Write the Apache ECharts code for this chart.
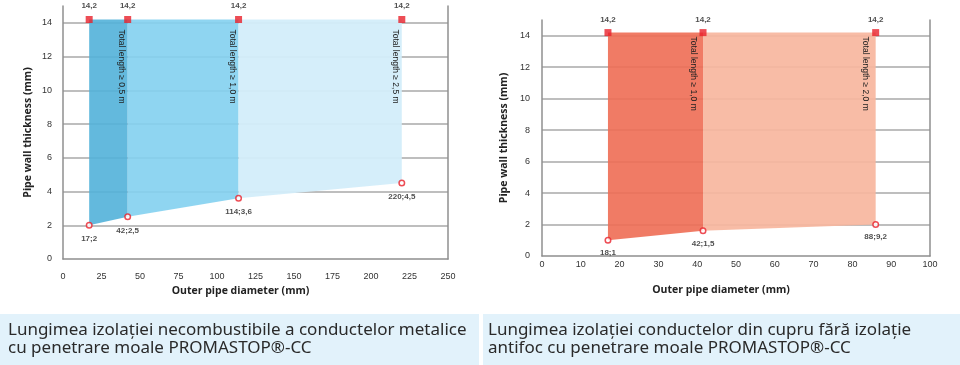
<!DOCTYPE html>
<html><head><meta charset="utf-8">
<script src="https://cdn.jsdelivr.net/npm/echarts@6/dist/echarts.min.js"></script>
<style>html,body{margin:0;padding:0;background:#fff}#c{width:960px;height:365px}</style>
</head><body><div id="c"></div>
<script>
// ---------- data ----------
const yTicks = [0, 2, 4, 6, 8, 10, 12, 14];
const yMax = 15;
const leftXTicks = [0, 25, 50, 75, 100, 125, 150, 175, 200, 225, 250];
const rightXTicks = [0, 10, 20, 30, 40, 50, 60, 70, 80, 90, 100];

const leftX = [17, 42, 114, 220];
const leftLow = [2, 2.5, 3.6, 4.5];
const leftTop = [14.2, 14.2, 14.2, 14.2];
const leftTopLabels = ['14,2', '14,2', '14,2', '14,2'];
const leftPointLabels = ['17;2', '42;2,5', '114;3,6', '220;4,5'];
const leftLengthLabels = ['Total length ≥ 0,5 m', 'Total length ≥ 1,0 m', 'Total length ≥ 2,5 m'];

const rightX = [17, 41.5, 86];
const rightLow = [1, 1.6, 2];
const rightTop = [14.2, 14.2, 14.2];
const rightTopLabels = ['14,2', '14,2', '14,2'];
const rightPointLabels = ['18;1', '42;1,5', '88;9,2'];
const rightLengthLabels = ['Total length ≥ 1,0 m', 'Total length ≥ 2,0 m'];

const xAxisName = 'Outer pipe diameter (mm)';
const yAxisName = 'Pipe wall thickness (mm)';
const captionLeft = ['Lungimea izolației necombustibile a conductelor metalice', 'cu penetrare moale PROMASTOP®-CC'];
const captionRight = ['Lungimea izolației conductelor din cupru fără izolație', 'antifoc cu penetrare moale PROMASTOP®-CC'];

// ---------- styles ----------
const leftFill = ['rgba(82,177,217,0.9)', 'rgba(131,208,239,0.9)', 'rgba(211,237,250,0.95)'];
const rightFill = ['rgba(238,109,84,0.9)', 'rgba(247,182,158,0.92)'];
const red = '#e8202a';
const axisGray = '#8f8f8f';
const gridGray = '#a8a8a8';
const baseFont = 'Liberation Sans, Arial, sans-serif';

function sections(xs, lows, tops) {
  const out = [];
  for (let i = 0; i < xs.length - 1; i++) out.push([xs[i], xs[i + 1], lows[i], lows[i + 1], tops[i]]);
  return out;
}
function polyRender(colors) {
  return function (params, api) {
    const x0 = api.value(0), x1 = api.value(1), l0 = api.value(2), l1 = api.value(3), t = api.value(4);
    const pts = [api.coord([x0, l0]), api.coord([x1, l1]), api.coord([x1, t]), api.coord([x0, t])];
    return { type: 'polygon', shape: { points: pts }, style: { fill: colors[params.dataIndex] } };
  };
}
function textRender(labels, dx, dy) {
  return function (params, api) {
    const p = api.coord([api.value(0), api.value(1)]);
    return {
      type: 'text', x: p[0] + dx, y: p[1] + dy, rotation: -Math.PI / 2,
      style: { text: labels[params.dataIndex], fontSize: 8.5, fontFamily: 'Liberation Sans Narrow, Liberation Sans, sans-serif', fill: '#222', align: 'left', verticalAlign: 'middle' }
    };
  };
}
function pts(xs, ys) { return xs.map((x, i) => [x, ys[i]]); }

function xAxisCfg(grid, ticks, margin, gap, shift) {
  return {
    type: 'value', gridIndex: grid, min: ticks[0], max: ticks[ticks.length - 1], interval: ticks[1] - ticks[0],
    axisLine: { show: true, lineStyle: { color: axisGray, width: 1.5 } },
    axisTick: { show: false }, splitLine: { show: false },
    axisLabel: { color: '#333', fontSize: 9, fontFamily: baseFont, margin: margin },
    name: xAxisName, nameLocation: 'middle', nameGap: gap,
    nameTextStyle: { fontSize: 10.5, fontWeight: 'bold', color: '#222', fontFamily: 'Open Sans, sans-serif', padding: [0, shift, 0, 0] }
  };
}
function yAxisCfg(grid, margin, gap) {
  return {
    type: 'value', gridIndex: grid, min: yTicks[0], max: yMax, interval: yTicks[1] - yTicks[0],
    axisLine: { show: true, lineStyle: { color: axisGray, width: 1.5 } },
    axisTick: { show: false },
    splitLine: { show: true, showMinLine: false, showMaxLine: false, lineStyle: { color: gridGray, width: 1.5 } },
    axisLabel: { color: '#333', fontSize: 9, fontFamily: baseFont, margin: margin, showMaxLabel: false },
    name: yAxisName, nameLocation: 'middle', nameGap: gap, nameRotate: 90,
    nameTextStyle: { fontSize: 10.5, fontWeight: 'bold', color: '#222', fontFamily: 'Open Sans, sans-serif' }
  };
}
function borderAxis(grid) {
  return {
    type: 'value', gridIndex: grid, position: 'right', min: yTicks[0], max: yMax,
    axisLine: { show: true, lineStyle: { color: axisGray, width: 1.5 } },
    axisTick: { show: false }, axisLabel: { show: false }, splitLine: { show: false }
  };
}
function topSeries(xi, yi, xs, tops, labels, dist) {
  return {
    type: 'scatter', xAxisIndex: xi, yAxisIndex: yi, data: pts(xs, tops), symbol: 'rect', symbolSize: 7, z: 5,
    itemStyle: { color: red },
    label: { show: true, position: 'top', distance: dist, formatter: p => labels[p.dataIndex], fontSize: 8, fontWeight: 'bold', color: '#222', fontFamily: baseFont }
  };
}
function lowSeries(xi, yi, xs, lows, labels, dist) {
  return {
    type: 'scatter', xAxisIndex: xi, yAxisIndex: yi, data: pts(xs, lows), symbol: 'circle', symbolSize: 5.5, z: 5,
    itemStyle: { color: '#fff', borderColor: red, borderWidth: 1.5 },
    label: { show: true, position: 'bottom', distance: dist, formatter: p => labels[p.dataIndex], fontSize: 8, fontWeight: 'bold', color: '#222', fontFamily: baseFont }
  };
}

const chart = echarts.init(document.getElementById('c'), null, { renderer: 'canvas' });
const captionStyle = { fill: '#2a2a2a', fontSize: 17, fontFamily: 'Noto Sans, sans-serif', lineHeight: 18 };
chart.setOption({
  animation: false,
  backgroundColor: '#fff',
  grid: [
    { left: 63, top: 6, width: 385, height: 253 },
    { left: 542, top: 20, width: 388, height: 236 }
  ],
  xAxis: [xAxisCfg(0, leftXTicks, 13, 26, 30), xAxisCfg(1, rightXTicks, 4, 29, 30)],
  yAxis: [yAxisCfg(0, 11, 29), borderAxis(0), yAxisCfg(1, 12, 32), borderAxis(1)],
  series: [
    { type: 'custom', xAxisIndex: 0, yAxisIndex: 0, data: sections(leftX, leftLow, leftTop), renderItem: polyRender(leftFill), z: 2 },
    { type: 'custom', xAxisIndex: 0, yAxisIndex: 0, data: pts(leftX.slice(1), leftTop.slice(1)), renderItem: textRender(leftLengthLabels, -6, 10), z: 4 },
    topSeries(0, 0, leftX, leftTop, leftTopLabels, 6),
    lowSeries(0, 0, leftX, leftLow, leftPointLabels, 6),
    { type: 'custom', xAxisIndex: 1, yAxisIndex: 2, data: sections(rightX, rightLow, rightTop), renderItem: polyRender(rightFill), z: 2 },
    { type: 'custom', xAxisIndex: 1, yAxisIndex: 2, data: pts(rightX.slice(1), rightTop.slice(1)), renderItem: textRender(rightLengthLabels, -10, 4), z: 4 },
    topSeries(1, 2, rightX, rightTop, rightTopLabels, 5),
    lowSeries(1, 2, rightX, rightLow, rightPointLabels, 5)
  ],
  graphic: [
    { type: 'rect', left: 0, top: 314, shape: { width: 479, height: 51 }, style: { fill: '#e2f2fb' }, silent: true },
    { type: 'rect', left: 483, top: 314, shape: { width: 477, height: 51 }, style: { fill: '#e2f2fb' }, silent: true },
    { type: 'text', left: 8, top: 321, style: Object.assign({ text: captionLeft.join('\n') }, captionStyle) },
    { type: 'text', left: 488, top: 321, style: Object.assign({ text: captionRight.join('\n') }, captionStyle) }
  ]
});
</script>
</body></html>
